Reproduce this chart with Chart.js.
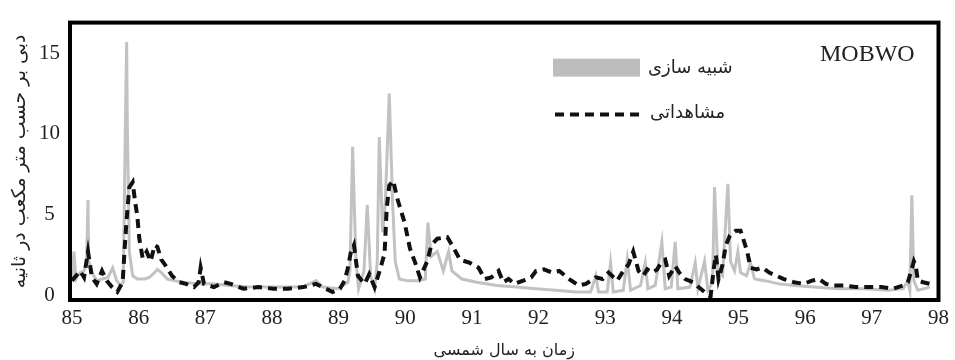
<!DOCTYPE html>
<html lang="fa">
<head>
<meta charset="UTF-8">
<title>MOBWO</title>
<script src="https://cdn.jsdelivr.net/npm/chart.js@4.4.1/dist/chart.umd.min.js"></script>
<style>
    body { margin: 0; background: #fff; }
    #wrap { width: 955px; height: 360px; }
</style>
</head>
<body>
<div id="wrap"><canvas id="flowChart"></canvas></div>

<script>
// observed discharge (dashed black)
const obsYears = [85.00,85.12,85.18,85.24,85.30,85.37,85.45,85.52,85.60,85.68,
    85.76,85.79,85.82,85.86,85.91,85.95,85.98,86.01,86.06,86.12,
    86.18,86.24,86.28,86.34,86.41,86.50,86.61,86.71,86.83,86.90,
    86.93,86.98,87.13,87.28,87.38,87.57,87.80,88.02,88.24,88.47,
    88.66,88.76,88.91,89.02,89.09,89.14,89.18,89.23,89.29,89.39,
    89.46,89.54,89.63,89.69,89.72,89.76,89.82,89.88,89.99,90.07,
    90.15,90.22,90.33,90.39,90.48,90.63,90.73,90.82,90.97,91.10,
    91.19,91.29,91.40,91.47,91.55,91.64,91.77,91.89,91.96,92.08,
    92.20,92.31,92.46,92.60,92.71,92.86,92.96,93.05,93.18,93.27,
    93.35,93.42,93.50,93.57,93.63,93.71,93.78,93.85,93.90,93.96,
    94.05,94.11,94.20,94.32,94.40,94.49,94.58,94.63,94.66,94.70,
    94.76,94.81,94.87,94.96,95.03,95.07,95.13,95.18,95.27,95.36,
    95.46,95.57,95.68,95.83,95.98,96.10,96.21,96.31,96.43,96.58,
    96.76,96.95,97.14,97.32,97.47,97.54,97.59,97.63,97.66,97.69,
    97.77,97.87];
const obsFlow = [0.9,1.5,1.1,2.7,1.1,0.7,1.5,0.9,0.5,0.2,
    0.8,2.9,4.7,6.7,7.0,5.7,4.9,3.5,2.3,2.7,
    2.1,3.1,3.0,2.2,1.8,1.2,0.8,0.7,0.5,0.8,
    1.7,0.7,0.5,0.8,0.7,0.4,0.5,0.4,0.4,0.5,
    0.7,0.5,0.2,0.4,0.9,1.7,2.6,3.1,1.2,0.7,
    1.3,0.5,1.7,2.6,5.3,6.8,7.1,6.0,4.5,2.9,
    2.0,1.1,2.1,3.1,3.5,3.6,2.9,2.2,2.0,1.7,
    1.0,1.1,1.5,0.8,1.0,0.7,0.9,1.1,1.5,1.6,
    1.4,1.5,1.0,0.6,0.7,1.1,1.0,1.4,0.9,1.5,
    1.9,2.7,1.5,1.2,1.6,1.4,1.6,2.1,2.2,1.2,
    1.8,1.4,1.0,0.8,0.5,0.2,-0.1,1.7,2.5,1.0,
    1.9,3.1,3.7,4.0,4.0,3.5,2.7,1.7,1.6,1.7,
    1.4,1.2,1.0,0.8,0.7,0.9,1.0,0.7,0.6,0.6,
    0.5,0.5,0.5,0.4,0.6,0.8,1.5,2.1,1.8,0.9,
    0.8,0.7];

// simulated discharge (grey)
const simYears = [85.00,85.03,85.06,85.12,85.18,85.22,85.24,85.25,85.30,85.37,
    85.45,85.54,85.61,85.67,85.73,85.77,85.80,85.82,85.83,85.86,
    85.91,85.98,86.09,86.16,86.24,86.28,86.34,86.43,86.53,86.68,
    86.90,87.13,87.35,87.65,87.95,88.24,88.47,88.66,88.76,88.99,
    89.14,89.17,89.21,89.26,89.30,89.38,89.43,89.48,89.54,89.58,
    89.61,89.66,89.70,89.76,89.81,89.85,89.91,90.03,90.18,90.30,
    90.34,90.39,90.48,90.57,90.65,90.70,90.85,91.07,91.37,91.67,
    91.96,92.26,92.56,92.78,92.86,92.90,93.03,93.08,93.12,93.27,
    93.33,93.38,93.53,93.60,93.64,93.75,93.85,93.90,93.99,94.05,
    94.09,94.27,94.35,94.39,94.49,94.54,94.61,94.64,94.69,94.76,
    94.84,94.88,94.94,94.99,95.03,95.12,95.18,95.24,95.39,95.61,
    95.83,96.13,96.50,96.88,97.25,97.47,97.54,97.57,97.60,97.63,
    97.69,97.87];
const simFlow = [0.9,2.7,1.0,1.4,1.5,2.1,5.9,2.1,1.4,0.9,
    1.0,1.1,1.7,0.9,0.6,0.8,10.5,15.7,10.5,2.7,
    1.2,1.0,1.0,1.1,1.4,1.6,1.4,1.0,0.9,0.8,
    0.7,0.7,0.6,0.5,0.5,0.5,0.5,0.9,0.5,0.4,
    0.8,1.5,9.2,2.1,0.4,1.5,5.6,1.2,0.4,2.1,
    9.8,3.9,5.7,12.5,5.7,2.1,1.0,0.9,0.9,1.0,
    4.5,2.4,2.7,1.5,2.7,1.5,1.0,0.8,0.6,0.5,
    0.4,0.3,0.2,0.2,1.2,0.2,0.2,2.0,0.2,0.3,
    2.2,0.3,0.6,2.0,0.4,0.6,3.3,0.4,0.5,3.3,
    0.4,0.5,2.0,0.4,2.1,0.3,0.8,6.7,1.5,1.2,
    6.9,2.1,1.5,2.7,1.4,1.2,2.0,1.0,0.9,0.7,
    0.6,0.5,0.4,0.4,0.3,0.4,0.9,0.3,6.2,0.9,
    0.3,0.5];

const xTicks = [85, 86, 87, 88, 89, 90, 91, 92, 93, 94, 95, 96, 97, 98];
const yTicks = [0, 5, 10, 15];

const simLabel = 'شبیه سازی';
const obsLabel = 'مشاهداتی';
const yTitle = 'دبی بر حسب متر مکعب در ثانیه';
const xTitle = 'زمان به سال شمسی';
const modelName = 'MOBWO';

const toPoints = (xs, ys) => xs.map((x, i) => ({ x: x, y: ys[i] }));

// black frame round the plot area
const framePlugin = {
    id: 'frame',
    afterDatasetsDraw(chart) {
        const { ctx, chartArea: a } = chart;
        ctx.save();
        ctx.strokeStyle = '#000';
        ctx.lineWidth = 4;
        ctx.strokeRect(a.left, a.top, a.right - a.left, a.bottom - a.top);
        ctx.restore();
    }
};

// legend and model name drawn inside the plot
const innerLegend = {
    id: 'innerLegend',
    afterDraw(chart) {
        const { ctx, chartArea: a } = chart;
        ctx.save();
        ctx.fillStyle = '#bdbdbd';
        ctx.fillRect(a.left + 483, a.top + 36, 87, 18);

        ctx.strokeStyle = '#111';
        ctx.lineWidth = 4;
        ctx.setLineDash([9, 6]);
        ctx.beginPath();
        ctx.moveTo(a.left + 485, a.top + 92);
        ctx.lineTo(a.left + 575, a.top + 92);
        ctx.stroke();
        ctx.setLineDash([]);

        ctx.fillStyle = '#222';
        ctx.textBaseline = 'middle';
        ctx.textAlign = 'left';
        ctx.font = '18px "DejaVu Sans"';
        ctx.fillText(simLabel, a.left + 578, a.top + 46);
        ctx.fillText(obsLabel, a.left + 580, a.top + 91);

        ctx.font = '24px "Liberation Serif"';
        ctx.fillText(modelName, a.left + 750, a.top + 32);
        ctx.restore();
    }
};

const ctx = document.getElementById('flowChart').getContext('2d');
const flowChart = new Chart(ctx, {
    type: 'line',
    data: {
        datasets: [
            {
                label: obsLabel,
                data: toPoints(obsYears, obsFlow),
                borderColor: '#111',
                borderWidth: 4,
                borderDash: [9, 6],
                pointRadius: 0,
                tension: 0,
                fill: false
            },
            {
                label: simLabel,
                data: toPoints(simYears, simFlow),
                borderColor: '#c2c2c2',
                borderWidth: 3,
                pointRadius: 0,
                tension: 0,
                fill: false
            }
        ]
    },
    options: {
        responsive: true,
        maintainAspectRatio: false,
        animation: false,
        layout: { padding: { top: 14, right: 9, left: 0, bottom: 0 } },
        plugins: {
            legend: { display: false },
            tooltip: { enabled: false }
        },
        scales: {
            x: {
                type: 'linear',
                min: 84.97,
                max: 98,
                afterBuildTicks: axis => { axis.ticks = xTicks.map(v => ({ value: v })); },
                afterFit: axis => { axis.height = 60; },
                grid: { display: false, drawTicks: false },
                border: { display: false },
                ticks: {
                    padding: 6,
                    maxRotation: 0,
                    autoSkip: false,
                    color: '#222',
                    font: { family: 'Liberation Serif', size: 21 }
                },
                title: {
                    display: true,
                    text: xTitle,
                    color: '#222',
                    padding: { top: 0, bottom: 0 },
                    font: { family: 'DejaVu Sans', size: 16 }
                }
            },
            y: {
                min: -0.3,
                max: 16.9,
                afterBuildTicks: axis => { axis.ticks = yTicks.map(v => ({ value: v })); },
                afterFit: axis => { axis.width = 70; },
                grid: { display: false, drawTicks: false },
                border: { display: false },
                ticks: {
                    padding: 10,
                    crossAlign: 'center',
                    color: '#222',
                    font: { family: 'Liberation Serif', size: 21 }
                },
                title: {
                    display: true,
                    text: yTitle,
                    color: '#222',
                    padding: { top: 9, bottom: 0 },
                    font: { family: 'DejaVu Sans', size: 19 }
                }
            }
        }
    },
    plugins: [framePlugin, innerLegend]
});
</script>
</body>
</html>
